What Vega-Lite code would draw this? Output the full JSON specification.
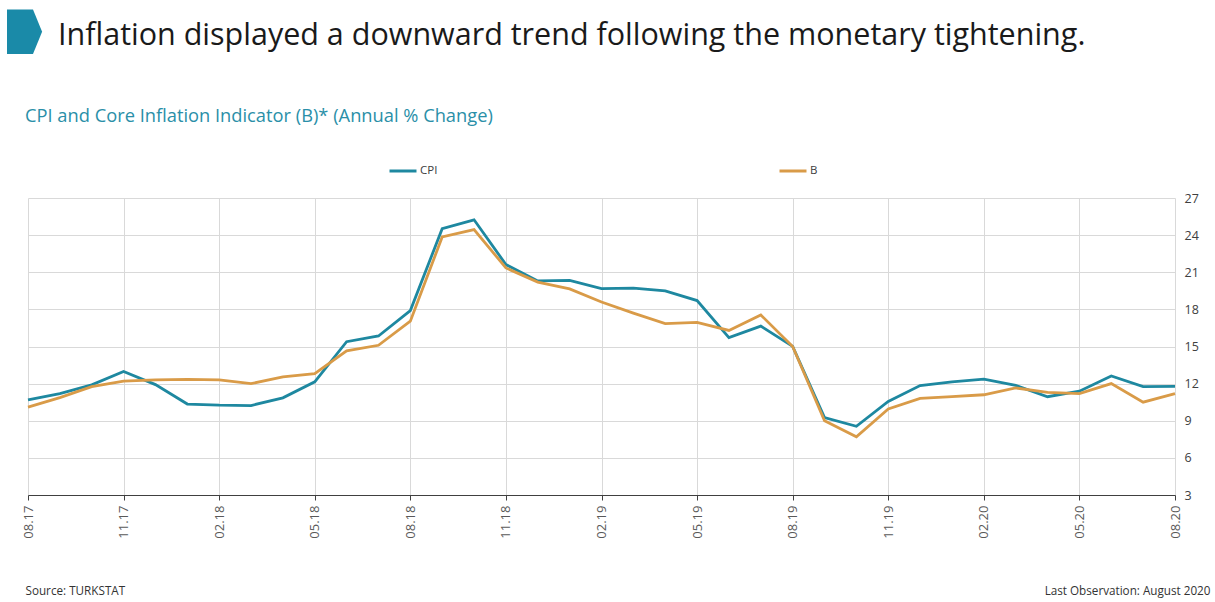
{
  "$schema": "https://vega.github.io/schema/vega-lite/v6.json",
  "width": 1147,
  "height": 297,
  "autosize": {"type": "none"},
  "padding": {"left": 28, "top": 198, "right": 40, "bottom": 107},
  "background": "white",
  "config": {"font": "Open Sans", "view": {"stroke": null}},
  "title": {
    "text": "CPI and Core Inflation Indicator (B)* (Annual % Change)",
    "anchor": "start",
    "frame": "group",
    "dx": -3,
    "offset": -117,
    "fontSize": 18.3,
    "fontWeight": "normal",
    "color": "#2a8fa8"
  },
  "layer": [
    {
      "data": {
        "values": [
          {"month": "08.17", "series": "CPI", "value": 10.68}, {"month": "09.17", "series": "CPI", "value": 11.20},
          {"month": "10.17", "series": "CPI", "value": 11.90}, {"month": "11.17", "series": "CPI", "value": 12.98},
          {"month": "12.17", "series": "CPI", "value": 11.92}, {"month": "01.18", "series": "CPI", "value": 10.35},
          {"month": "02.18", "series": "CPI", "value": 10.26}, {"month": "03.18", "series": "CPI", "value": 10.23},
          {"month": "04.18", "series": "CPI", "value": 10.85}, {"month": "05.18", "series": "CPI", "value": 12.15},
          {"month": "06.18", "series": "CPI", "value": 15.39}, {"month": "07.18", "series": "CPI", "value": 15.85},
          {"month": "08.18", "series": "CPI", "value": 17.90}, {"month": "09.18", "series": "CPI", "value": 24.52},
          {"month": "10.18", "series": "CPI", "value": 25.24}, {"month": "11.18", "series": "CPI", "value": 21.62},
          {"month": "12.18", "series": "CPI", "value": 20.30}, {"month": "01.19", "series": "CPI", "value": 20.35},
          {"month": "02.19", "series": "CPI", "value": 19.67}, {"month": "03.19", "series": "CPI", "value": 19.71},
          {"month": "04.19", "series": "CPI", "value": 19.50}, {"month": "05.19", "series": "CPI", "value": 18.71},
          {"month": "06.19", "series": "CPI", "value": 15.72}, {"month": "07.19", "series": "CPI", "value": 16.65},
          {"month": "08.19", "series": "CPI", "value": 15.01}, {"month": "09.19", "series": "CPI", "value": 9.26},
          {"month": "10.19", "series": "CPI", "value": 8.55}, {"month": "11.19", "series": "CPI", "value": 10.56},
          {"month": "12.19", "series": "CPI", "value": 11.84}, {"month": "01.20", "series": "CPI", "value": 12.15},
          {"month": "02.20", "series": "CPI", "value": 12.37}, {"month": "03.20", "series": "CPI", "value": 11.86},
          {"month": "04.20", "series": "CPI", "value": 10.94}, {"month": "05.20", "series": "CPI", "value": 11.39},
          {"month": "06.20", "series": "CPI", "value": 12.62}, {"month": "07.20", "series": "CPI", "value": 11.76},
          {"month": "08.20", "series": "CPI", "value": 11.77},
          {"month": "08.17", "series": "B", "value": 10.10}, {"month": "09.17", "series": "B", "value": 10.87},
          {"month": "10.17", "series": "B", "value": 11.76}, {"month": "11.17", "series": "B", "value": 12.20},
          {"month": "12.17", "series": "B", "value": 12.30}, {"month": "01.18", "series": "B", "value": 12.35},
          {"month": "02.18", "series": "B", "value": 12.30}, {"month": "03.18", "series": "B", "value": 12.00},
          {"month": "04.18", "series": "B", "value": 12.55}, {"month": "05.18", "series": "B", "value": 12.80},
          {"month": "06.18", "series": "B", "value": 14.65}, {"month": "07.18", "series": "B", "value": 15.10},
          {"month": "08.18", "series": "B", "value": 17.05}, {"month": "09.18", "series": "B", "value": 23.85},
          {"month": "10.18", "series": "B", "value": 24.45}, {"month": "11.18", "series": "B", "value": 21.35},
          {"month": "12.18", "series": "B", "value": 20.20}, {"month": "01.19", "series": "B", "value": 19.65},
          {"month": "02.19", "series": "B", "value": 18.60}, {"month": "03.19", "series": "B", "value": 17.70},
          {"month": "04.19", "series": "B", "value": 16.85}, {"month": "05.19", "series": "B", "value": 16.95},
          {"month": "06.19", "series": "B", "value": 16.30}, {"month": "07.19", "series": "B", "value": 17.55},
          {"month": "08.19", "series": "B", "value": 15.00}, {"month": "09.19", "series": "B", "value": 9.00},
          {"month": "10.19", "series": "B", "value": 7.70}, {"month": "11.19", "series": "B", "value": 9.95},
          {"month": "12.19", "series": "B", "value": 10.80}, {"month": "01.20", "series": "B", "value": 10.95},
          {"month": "02.20", "series": "B", "value": 11.10}, {"month": "03.20", "series": "B", "value": 11.65},
          {"month": "04.20", "series": "B", "value": 11.30}, {"month": "05.20", "series": "B", "value": 11.20},
          {"month": "06.20", "series": "B", "value": 12.00}, {"month": "07.20", "series": "B", "value": 10.50},
          {"month": "08.20", "series": "B", "value": 11.20}
        ]
      },
      "mark": {"type": "line", "strokeWidth": 2.8},
      "encoding": {
        "x": {
          "field": "month", "type": "ordinal", "sort": null,
          "scale": {"type": "point", "padding": 0},
          "axis": {
            "values": ["08.17","11.17","02.18","05.18","08.18","11.18","02.19","05.19","08.19","11.19","02.20","05.20","08.20"],
            "labelAngle": -90, "labelFontSize": 13, "labelColor": "#595959", "labelPadding": 5,
            "tickSize": 5, "tickColor": "#404040", "domainColor": "#404040",
            "grid": true, "gridColor": "#d9d9d9",
            "title": "Source: TURKSTAT", "titleAnchor": "start", "titleAlign": "left",
            "titleX": -3, "titleY": 99, "titleBaseline": "alphabetic",
            "titleFontSize": 11.7, "titleFontWeight": "normal", "titleColor": "#333333"
          }
        },
        "y": {
          "field": "value", "type": "quantitative",
          "scale": {"domain": [3, 27], "nice": false, "zero": false},
          "axis": {
            "orient": "right", "values": [3, 6, 9, 12, 15, 18, 21, 24, 27],
            "labelFontSize": 12.5, "labelColor": "#404040", "labelPadding": 9,
            "ticks": false, "domain": false, "gridColor": "#d9d9d9",
            "title": "Last Observation: August 2020", "titleAngle": 0, "titleAlign": "right",
            "titleBaseline": "alphabetic", "titleX": 35, "titleY": 396,
            "titleFontSize": 11.7, "titleFontWeight": "normal", "titleColor": "#333333"
          }
        },
        "color": {
          "field": "series", "type": "nominal",
          "scale": {"domain": ["CPI", "B"], "range": ["#1e88a0", "#d99b48"]},
          "legend": {
            "title": null, "orient": "none", "legendX": 360, "legendY": -42,
            "direction": "horizontal", "padding": 0,
            "symbolType": "stroke", "symbolStrokeWidth": 3, "symbolSize": 729,
            "labelFontSize": 11.5, "labelColor": "#404040", "labelOffset": 2,
            "columnPadding": 335
          }
        }
      }
    },
    {
      "data": {"values": [{"heading": "Inflation displayed a downward trend following the monetary tightening."}]},
      "mark": {"type": "point", "filled": true, "opacity": 0, "color": "#1a8aa8"},
      "encoding": {
        "shape": {
          "field": "heading", "type": "nominal",
          "scale": {"range": ["M-1,-1L0,-1L0.35,-0.144L0,0.71L-1,0.71Z"]},
          "legend": {
            "title": null, "orient": "none", "legendX": -21, "legendY": -188.5, "padding": 0,
            "symbolSize": 2704, "symbolFillColor": "#1a8aa8", "symbolStrokeWidth": 0, "symbolOpacity": 1,
            "labelFontSize": 30.5, "labelColor": "#1a1a1a", "labelLimit": 1200, "labelOffset": -1
          }
        }
      }
    }
  ]
}
